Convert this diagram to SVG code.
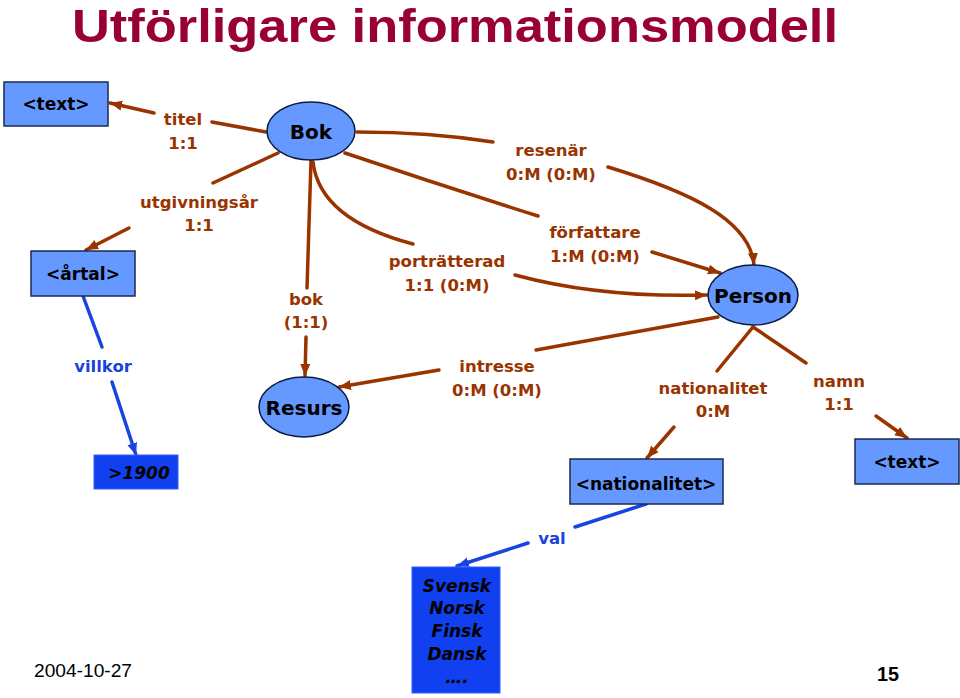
<svg xmlns="http://www.w3.org/2000/svg" width="960" height="698" viewBox="0 0 960 698">
<defs>
<style>
.br{fill:none;stroke:#993300;stroke-width:3.5;stroke-linecap:round}
.bl{fill:none;stroke:#1a44e0;stroke-width:3.5;stroke-linecap:round}
.lb{font-family:"DejaVu Sans",Verdana,sans-serif;font-weight:bold;font-size:16.5px;fill:#993300;text-anchor:middle}
.lbb{font-family:"DejaVu Sans",Verdana,sans-serif;font-weight:bold;font-size:16.5px;fill:#1a44d8;text-anchor:middle}
.ell{fill:#6699ff;stroke:#0a1a40;stroke-width:1.5}
.box{fill:#6699ff;stroke:#1a2a50;stroke-width:1.5}
.dbox{fill:#1040f0;stroke:#3060ff;stroke-width:1}
.nt{font-family:"DejaVu Sans",Verdana,sans-serif;font-weight:bold;font-size:20px;fill:#000;text-anchor:middle}
.bt{font-family:"DejaVu Sans",Verdana,sans-serif;font-weight:bold;font-size:17px;fill:#000;text-anchor:middle}
.it{font-family:"DejaVu Sans",Verdana,sans-serif;font-weight:bold;font-style:italic;font-size:17px;fill:#000;text-anchor:middle}
</style>
<marker id="ab" markerUnits="userSpaceOnUse" markerWidth="13" markerHeight="11" refX="12" refY="5" orient="auto"><path d="M0,0 L12,5 L0,10 z" fill="#993300"/></marker>
<marker id="au" markerUnits="userSpaceOnUse" markerWidth="13" markerHeight="11" refX="12" refY="5" orient="auto"><path d="M0,0 L12,5 L0,10 z" fill="#1a44e0"/></marker>
</defs>
<rect width="960" height="698" fill="#fff"/>
<text x="72" y="42" font-family="'Liberation Sans',Arial,sans-serif" font-weight="bold" font-size="47" fill="#990033" textLength="766" lengthAdjust="spacingAndGlyphs">Utförligare informationsmodell</text>

<g id="connectors">
<path class="br" d="M266,132 L212,122"/>
<path class="br" d="M154,113 L110,103" marker-end="url(#ab)"/>
<path class="br" d="M278,153 L213,183"/>
<path class="br" d="M129,228 L86,250" marker-end="url(#ab)"/>
<path class="br" d="M311,161 L307,288"/>
<path class="br" d="M306,337 L305,376" marker-end="url(#ab)"/>
<path class="br" d="M313,162 C318,205 360,230 413,244"/>
<path class="br" d="M515,275 Q600,298 707,295" marker-end="url(#ab)"/>
<path class="br" d="M345,153 Q440,185 538,216"/>
<path class="br" d="M652,252 L720,273" marker-end="url(#ab)"/>
<path class="br" d="M357,132 Q430,132 493,142"/>
<path class="br" d="M608,167 C690,192 750,220 754,265" marker-end="url(#ab)"/>
<path class="br" d="M718,317 L536,350"/>
<path class="br" d="M439,370 L339,387" marker-end="url(#ab)"/>
<path class="br" d="M753,327 L717,371"/>
<path class="br" d="M674,427 L647,458" marker-end="url(#ab)"/>
<path class="br" d="M753,327 L806,363"/>
<path class="br" d="M876,416 L907,438" marker-end="url(#ab)"/>
<path class="bl" d="M83,296 L102,347"/>
<path class="bl" d="M112,382 L136,455" marker-end="url(#au)"/>
<path class="bl" d="M646,504 L575,527"/>
<path class="bl" d="M528,543 L457,566" marker-end="url(#au)"/>
</g>

<g id="labels">
<text class="lb" x="183" y="125">titel</text>
<text class="lb" x="183" y="149">1:1</text>
<text class="lb" x="199" y="208">utgivningsår</text>
<text class="lb" x="199" y="231">1:1</text>
<text class="lb" x="306" y="305">bok</text>
<text class="lb" x="306" y="328">(1:1)</text>
<text class="lb" x="447" y="267">porträtterad</text>
<text class="lb" x="447" y="291">1:1 (0:M)</text>
<text class="lb" x="551" y="156">resenär</text>
<text class="lb" x="551" y="180">0:M (0:M)</text>
<text class="lb" x="595" y="238">författare</text>
<text class="lb" x="595" y="262">1:M (0:M)</text>
<text class="lb" x="497" y="372">intresse</text>
<text class="lb" x="497" y="396">0:M (0:M)</text>
<text class="lb" x="713" y="394">nationalitet</text>
<text class="lb" x="713" y="417">0:M</text>
<text class="lb" x="839" y="387">namn</text>
<text class="lb" x="839" y="410">1:1</text>
<text class="lbb" x="103" y="372">villkor</text>
<text class="lbb" x="552" y="544">val</text>
</g>

<g id="node-text-top">
<rect class="box" x="4" y="82" width="104" height="44"/>
<text class="bt" x="56" y="110">&lt;text&gt;</text>
</g>
<g id="node-artal">
<rect class="box" x="31" y="251" width="104" height="45"/>
<text class="bt" x="83" y="280">&lt;årtal&gt;</text>
</g>
<g id="node-bok">
<ellipse class="ell" cx="311" cy="131" rx="44" ry="29"/>
<text class="nt" x="311" y="139">Bok</text>
</g>
<g id="node-person">
<ellipse class="ell" cx="753" cy="295" rx="45" ry="30"/>
<text class="nt" x="753" y="303">Person</text>
</g>
<g id="node-resurs">
<ellipse class="ell" cx="304" cy="407" rx="45" ry="30"/>
<text class="nt" x="304" y="415">Resurs</text>
</g>
<g id="node-1900">
<rect class="dbox" x="94" y="455" width="84" height="34"/>
<text class="it" x="139" y="479">&gt;1900</text>
</g>
<g id="node-nationalitet">
<rect class="box" x="570" y="459" width="153" height="45"/>
<text class="bt" x="646" y="490">&lt;nationalitet&gt;</text>
</g>
<g id="node-text-right">
<rect class="box" x="855" y="439" width="104" height="45"/>
<text class="bt" x="907" y="468">&lt;text&gt;</text>
</g>
<g id="node-values">
<rect class="dbox" x="412" y="567" width="88" height="126"/>
<text class="it" x="457" y="592">Svensk</text>
<text class="it" x="457" y="614">Norsk</text>
<text class="it" x="457" y="637">Finsk</text>
<text class="it" x="457" y="660">Dansk</text>
<text class="it" x="457" y="683">….</text>
</g>

<text x="34" y="677" font-family="'Liberation Sans',Arial,sans-serif" font-size="18" fill="#000" textLength="98" lengthAdjust="spacingAndGlyphs">2004-10-27</text>
<text x="877" y="681" font-family="'Liberation Sans',Arial,sans-serif" font-weight="bold" font-size="21" fill="#000" textLength="22" lengthAdjust="spacingAndGlyphs">15</text>
</svg>
